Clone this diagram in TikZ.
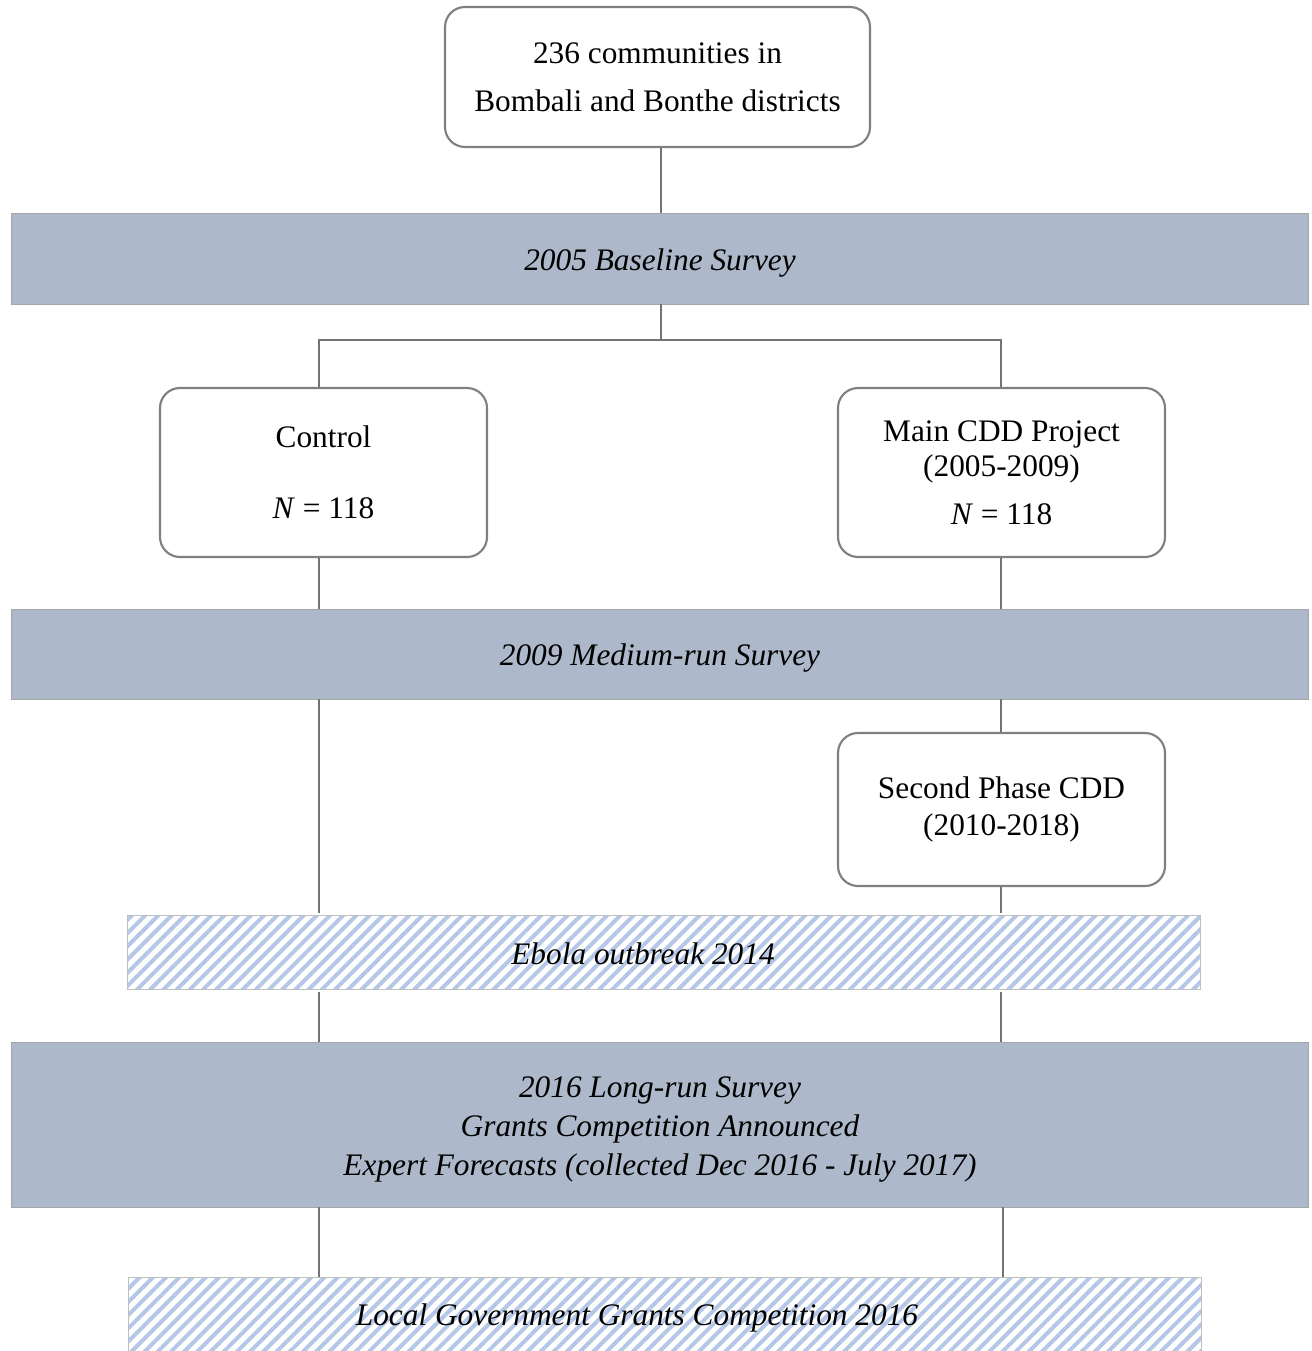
\documentclass[tikz,border=0pt]{standalone}
\usepackage{fontspec}
\setmainfont{Liberation Serif}
\usetikzlibrary{patterns.meta}

\definecolor{bandblue}{HTML}{ADB9CA}
\definecolor{hatchblue}{HTML}{B4C7E7}
\definecolor{boxgray}{HTML}{808080}

\newcommand{\labelfont}{\fontsize{23.5}{28}\selectfont}

\tikzset{
  stagebox/.style={draw=boxgray, line width=1.6pt, rounded corners=15pt, fill=white,
    align=center, inner sep=0pt},
  surveyband/.style={draw=black!35, line width=0.6pt, fill=bandblue,
    inner sep=0pt, minimum width=972.75pt},
  eventband/.style={draw=black!25, line width=0.6pt, fill=white,
    pattern={Lines[angle=45, distance=7pt, line width=3pt]}, pattern color=hatchblue,
    inner sep=0pt, minimum width=804.75pt, minimum height=56pt},
  bandtext/.style={font=\labelfont\itshape, align=center},
  link/.style={draw=boxgray!90!black, line width=1.8pt}
}

\begin{document}
\begin{tikzpicture}[x=0.75pt, y=-0.75pt, font=\labelfont]
\useasboundingbox (0,0) rectangle (1311,1351);

% boxes
\node[stagebox, minimum width=318.75pt, minimum height=105pt] (pop) at (657.5,77)
  {236 communities in\\[8pt]Bombali and Bonthe districts};
\node[stagebox, minimum width=245.25pt, minimum height=126.75pt] (ctrl) at (323.5,472.5)
  {Control\\[25pt]\textit{N} = 118};
\node[stagebox, minimum width=245.25pt, minimum height=126.75pt] (cdd) at (1001.5,472.5)
  {Main CDD Project\\[-2pt](2005-2009)\\[8pt]\textit{N} = 118};
\node[stagebox, minimum width=245.25pt, minimum height=114.75pt] (phase) at (1001.5,809.5)
  {Second Phase CDD\\(2010-2018)};

% survey bands
\node[surveyband, minimum height=68.25pt] (base) at (659.5,258.5) {};
\node[bandtext] at (660,263) {2005 Baseline Survey};
\node[surveyband, minimum height=67.5pt] (mid) at (659.5,654) {};
\node[bandtext] at (660,658.5) {2009 Medium-run Survey};
\node[surveyband, minimum height=123.75pt] (long) at (660,1124.5) {};
\node[bandtext] at (660,1129.5)
  {2016 Long-run Survey\\[1pt]Grants Competition Announced\\[1pt]Expert Forecasts (collected Dec 2016 - July 2017)};

% events
\node[eventband] (ebola) at (663.5,952.5) {};
\node[bandtext] at (643,954) {Ebola outbreak 2014};
\node[eventband, minimum height=60pt] (grants) at (664.5,1317) {};
\node[bandtext] at (637,1317.5) {Local Government Grants Competition 2016};

\coordinate (split) at (661,340);
\coordinate (cx) at (319,0);
\coordinate (tx) at (1001,0);

% connectors
\draw[link] (pop.south -| split) -- (base.north -| split);
\draw[link] (base.south -| split) -- (split);
\draw[link] (cx |- ctrl.north) |- (split) -| (tx |- cdd.north);
\draw[link] (cx |- ctrl.south) -- (cx |- mid.north);
\draw[link] (tx |- cdd.south) -- (tx |- mid.north);
\draw[link] (cx |- mid.south) -- (cx |- ebola.north);
\draw[link] (tx |- mid.south) -- (tx |- phase.north);
\draw[link] (tx |- phase.south) -- (tx |- ebola.north);
\draw[link] (cx |- ebola.south) -- (cx |- long.north);
\draw[link] (tx |- ebola.south) -- (tx |- long.north);
\draw[link] (cx |- long.south) -- (cx |- grants.north);
\draw[link] ([xshift=1.5pt]tx |- long.south) -- ([xshift=1.5pt]tx |- grants.north);

\end{tikzpicture}
\end{document}
